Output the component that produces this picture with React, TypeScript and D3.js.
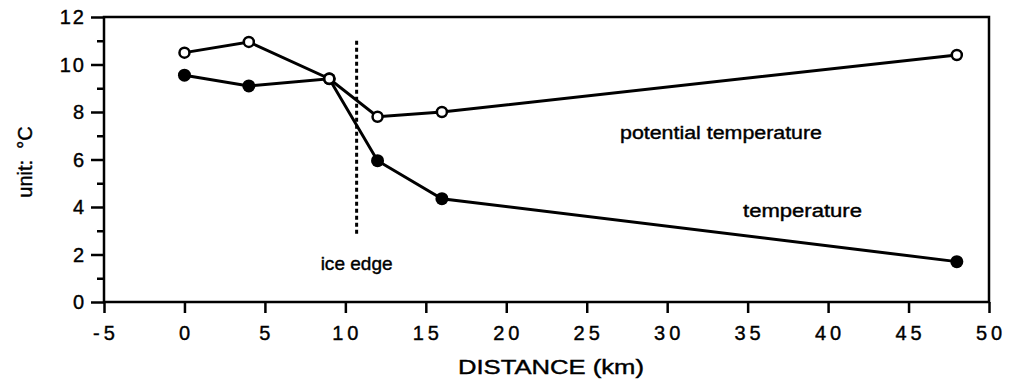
import React, { useEffect, useRef } from 'react';
import * as d3 from 'd3';

const distances = [0, 4, 9, 12, 16, 48];
const potentialTemp = [10.5, 10.95, 9.4, 7.8, 8.0, 10.4];
const temperature = [9.55, 9.1, 9.4, 5.95, 4.35, 1.7];
const iceEdge = { x: 10.7, y0: 11.0, y1: 2.75 };
const xTicks = [-5, 0, 5, 10, 15, 20, 25, 30, 35, 40, 45, 50];
const yTicks = [0, 2, 4, 6, 8, 10, 12];
const yMinor = [1, 3, 5, 7, 9, 11];

const W = 1009;
const H = 385;
const FONT = "'Liberation Sans', Arial, Helvetica, sans-serif";

const App: React.FC = () => {
  const svgRef = useRef<SVGSVGElement>(null);

  useEffect(() => {
    if (!svgRef.current) return;
    const svg = d3.select(svgRef.current);
    svg.selectAll('*').remove();

    const x = d3.scaleLinear().domain([-5, 50]).range([104, 989]);
    const y = d3.scaleLinear().domain([0, 12]).range([302, 17]);

    // heavier text, like the scanned original
    const ink = (sel: any) => sel
      .style('font-family', FONT)
      .attr('fill', '#000')
      .attr('stroke', '#000')
      .attr('stroke-width', 0.4);

    // frame
    svg.append('rect')
      .attr('x', x(-5)).attr('y', y(12))
      .attr('width', x(50) - x(-5)).attr('height', y(0) - y(12))
      .attr('fill', 'none').attr('stroke', '#000').attr('stroke-width', 2.5);

    // y axis major + minor ticks
    const yAxis = svg.append('g')
      .attr('transform', `translate(${x(-5)},0)`)
      .call(d3.axisLeft(y).tickValues(yTicks).tickSize(13).tickFormat(() => ''));
    yAxis.select('.domain').remove();
    yAxis.selectAll('line').attr('stroke', '#000').attr('stroke-width', 2.5);

    const yMinorAxis = svg.append('g')
      .attr('transform', `translate(${x(-5)},0)`)
      .call(d3.axisLeft(y).tickValues(yMinor).tickSize(7).tickFormat(() => ''));
    yMinorAxis.select('.domain').remove();
    yMinorAxis.selectAll('line').attr('stroke', '#000').attr('stroke-width', 2.5);

    svg.append('g').selectAll('text')
      .data(yTicks)
      .enter()
      .append('text')
      .attr('x', 86)
      .attr('y', d => y(d))
      .attr('dy', '0.36em')
      .attr('text-anchor', 'end')
      .call(ink)
      .style('font-size', '20px')
      .style('letter-spacing', '2px')
      .text(d => String(d));

    // x axis ticks
    const xAxis = svg.append('g')
      .attr('transform', `translate(0,${y(0)})`)
      .call(d3.axisBottom(x).tickValues(xTicks).tickSize(11).tickFormat(() => ''));
    xAxis.select('.domain').remove();
    xAxis.selectAll('line').attr('stroke', '#000').attr('stroke-width', 2.5);

    svg.append('g').selectAll('text')
      .data(xTicks)
      .enter()
      .append('text')
      .attr('x', d => x(d) + 2)
      .attr('y', 340)
      .attr('text-anchor', 'middle')
      .call(ink)
      .style('font-size', '20px')
      .style('letter-spacing', '4px')
      .text(d => (d < 0 ? `-${Math.abs(d)}` : String(d)));

    // axis titles
    svg.append('text')
      .attr('x', 551).attr('y', 374)
      .attr('text-anchor', 'middle')
      .call(ink)
      .style('font-size', '20px')
      .attr('textLength', 186).attr('lengthAdjust', 'spacingAndGlyphs')
      .text('DISTANCE (km)');

    svg.append('text')
      .attr('transform', 'translate(32,162) rotate(-90)')
      .attr('text-anchor', 'middle')
      .call(ink)
      .style('font-size', '20px')
      .style('white-space', 'pre')
      .text('unit:  °C');

    // ice edge
    svg.append('line')
      .attr('x1', x(iceEdge.x)).attr('x2', x(iceEdge.x))
      .attr('y1', y(iceEdge.y0)).attr('y2', y(iceEdge.y1))
      .attr('stroke', '#000').attr('stroke-width', 3)
      .attr('stroke-dasharray', '4,3');

    svg.append('text')
      .attr('x', x(iceEdge.x)).attr('y', 270)
      .attr('text-anchor', 'middle')
      .call(ink)
      .style('font-size', '19px')
      .attr('textLength', 72).attr('lengthAdjust', 'spacingAndGlyphs')
      .text('ice edge');

    const pts = (vals: number[]) => distances.map((d, i) => [d, vals[i]] as [number, number]);
    const line = d3.line<[number, number]>()
      .x(d => x(d[0]))
      .y(d => y(d[1]));

    svg.append('path')
      .datum(pts(temperature))
      .attr('fill', 'none').attr('stroke', '#000').attr('stroke-width', 3)
      .attr('d', line);

    svg.append('path')
      .datum(pts(potentialTemp))
      .attr('fill', 'none').attr('stroke', '#000').attr('stroke-width', 3)
      .attr('d', line);

    svg.selectAll('.dot-t')
      .data(pts(temperature))
      .enter()
      .append('circle')
      .attr('cx', d => x(d[0])).attr('cy', d => y(d[1]))
      .attr('r', 6.5).attr('fill', '#000');

    svg.selectAll('.dot-p')
      .data(pts(potentialTemp))
      .enter()
      .append('circle')
      .attr('cx', d => x(d[0])).attr('cy', d => y(d[1]))
      .attr('r', 5).attr('fill', '#fff')
      .attr('stroke', '#000').attr('stroke-width', 2.5);

    // series labels
    svg.append('text')
      .attr('x', 620).attr('y', 139)
      .call(ink)
      .style('font-size', '18px')
      .attr('textLength', 202).attr('lengthAdjust', 'spacingAndGlyphs')
      .text('potential temperature');

    svg.append('text')
      .attr('x', 743).attr('y', 217)
      .call(ink)
      .style('font-size', '18px')
      .attr('textLength', 119).attr('lengthAdjust', 'spacingAndGlyphs')
      .text('temperature');
  }, []);

  return (
    <svg
      ref={svgRef}
      width={W}
      height={H}
      style={{ position: 'absolute', left: 0, top: 0, background: '#fff' }}
    />
  );
};

export default App;
